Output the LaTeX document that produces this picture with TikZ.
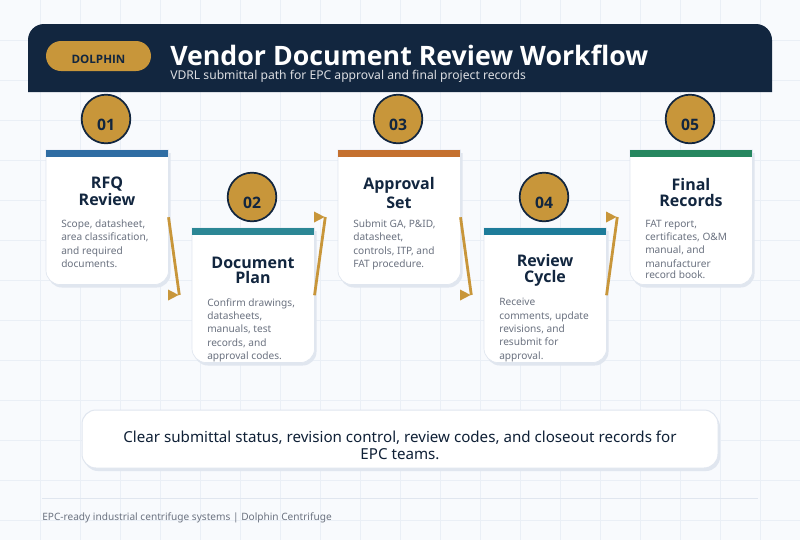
\documentclass[tikz,border=0pt]{standalone}
\usepackage{fontspec}
\setmainfont{Noto Sans}
\newfontfamily\headfont{Open Sans}
\usetikzlibrary{shapes.geometric}
\definecolor{pagebg}{HTML}{F8FAFD}
\definecolor{gridcol}{HTML}{EAEFF6}
\definecolor{navy}{HTML}{12263F}
\definecolor{gold}{HTML}{C8963A}
\definecolor{cardedge}{HTML}{E0E6EF}
\definecolor{bodygrey}{HTML}{6B7280}
\definecolor{barblue}{HTML}{2F6DA3}
\definecolor{barteal}{HTML}{2C8795}
\definecolor{barorange}{HTML}{C4702F}
\definecolor{barcyan}{HTML}{1E7C9A}
\definecolor{bargreen}{HTML}{26865F}
% bottom-rounded outline of a card, taken from its node
\newcommand{\cardoutline}[2]{([shift={#2}]#1.north west) [rounded corners=10.5pt] -- ([shift={#2}]#1.south west) -- ([shift={#2}]#1.south east) [sharp corners] -- ([shift={#2}]#1.north east) -- cycle}
\newcommand{\cardback}[1]{
	\fill[cardedge] \cardoutline{#1}{(2,3)};
	\filldraw[fill=white,draw=cardedge,line width=0.5pt] \cardoutline{#1}{(0,0)};
}
\begin{document}
\begin{tikzpicture}[
	x=0.75pt,
	y=-0.75pt,
	gridline/.style={draw=gridcol,line width=0.75pt},
	cardspace/.style={minimum width=91.5pt,minimum height=100.5pt,inner sep=0pt,anchor=north west},
	topbar/.style={minimum width=91.5pt,minimum height=5.25pt,inner sep=0pt,anchor=north},
	numdisc/.style={circle,fill=gold,draw=navy,line width=1.3pt,minimum size=36.5pt,inner sep=0pt},
	numtext/.style={text=navy,font=\headfont\fontsize{11.8}{14}\selectfont\bfseries},
	cardtitle/.style={text=navy,align=center,inner sep=0pt,anchor=north},
	cardtext/.style={text=bodygrey,align=left,inner sep=0pt,anchor=north west,font=\fontsize{7.6}{10}\selectfont},
	flowline/.style={draw=gold,line width=2.1pt},
	flowhead/.style={isosceles triangle,isosceles triangle stretches,fill=gold,shape border rotate=0,minimum width=8.25pt,minimum height=7.9pt,inner sep=0pt,anchor=apex},
	]
\useasboundingbox (0,0) rectangle (800,540);
\fill[pagebg] (0,0) rectangle (800,540);
\foreach \gx in {40,80,...,760} \draw[gridline] (\gx,0) -- (\gx,540);
\foreach \gy in {40,80,...,520} \draw[gridline] (0,\gy) -- (800,\gy);

% header band
\fill[navy] (28,92) [rounded corners=12pt] -- (28,24) -- (772,24) [sharp corners] -- (772,92) -- cycle;
\node[fill=gold,rounded corners=11.25pt,minimum width=78.75pt,minimum height=22.5pt,inner sep=0pt] (pill) at (98.5,56) {};
\node[text=navy,font=\headfont\fontsize{8.7}{11}\selectfont\bfseries] (brand) at (98.5,59.5) {DOLPHIN};
\node[text=white,anchor=base west,inner sep=0pt,font=\headfont\fontsize{20.05}{24}\selectfont\bfseries] (title) at (170,65) {Vendor Document Review Workflow};
\node[text=white!85!navy,anchor=base west,inner sep=0pt,font=\fontsize{9.1}{11}\selectfont] (subtitle) at (170,79) {VDRL submittal path for EPC approval and final project records};

% cards
\node[cardspace] (carda) at (46,150) {};
\node[cardspace] (cardb) at (192,228) {};
\node[cardspace] (cardc) at (338,150) {};
\node[cardspace] (cardd) at (484,228) {};
\node[cardspace] (carde) at (630,150) {};
\cardback{carda}
\cardback{cardb}
\cardback{cardc}
\cardback{cardd}
\cardback{carde}
\node[topbar,fill=barblue] (bara) at (carda.north) {};
\node[topbar,fill=barteal] (barb) at (cardb.north) {};
\node[topbar,fill=barorange] (barc) at (cardc.north) {};
\node[topbar,fill=barcyan] (bard) at (cardd.north) {};
\node[topbar,fill=bargreen] (bare) at (carde.north) {};

% number discs
\node[numdisc] (numa) at (106,119) {};
\node[numdisc] (numb) at (252,197) {};
\node[numdisc] (numc) at (398,119) {};
\node[numdisc] (numd) at (544,197) {};
\node[numdisc] (nume) at (690,119) {};
\node[numtext] (labela) at (106,125) {01};
\node[numtext] (labelb) at (252,203) {02};
\node[numtext] (labelc) at (398,125) {03};
\node[numtext] (labeld) at (544,203) {04};
\node[numtext] (labele) at (690,125) {05};

% card titles
\node[cardtitle,font=\headfont\fontsize{12}{12.7}\selectfont\bfseries] (titlea) at (107,177) {RFQ\\Review};
\node[cardtitle,font=\headfont\fontsize{12}{11}\selectfont\bfseries] (titleb) at (253,257) {Document\\Plan};
\node[cardtitle,font=\headfont\fontsize{12}{14}\selectfont\bfseries] (titlec) at (399,177) {Approval\\Set};
\node[cardtitle,font=\headfont\fontsize{12}{12}\selectfont\bfseries] (titled) at (545,254) {Review\\Cycle};
\node[cardtitle,font=\headfont\fontsize{12}{12}\selectfont\bfseries] (titlee) at (691,178) {Final\\Records};

% card texts
\node[cardtext] (texta) at (61,219.5) {Scope, datasheet,\\area classification,\\and required\\documents.};
\node[cardtext] (textb) at (207,298) {Confirm drawings,\\datasheets,\\manuals, test\\records, and\\approval codes.};
\node[cardtext] (textc) at (353,219.5) {Submit GA, P\&ID,\\datasheet,\\controls, ITP, and\\FAT procedure.};
\node[cardtext] (textd) at (499,298) {Receive\\comments, update\\revisions, and\\resubmit for\\approval.};
\node[cardtext] (texte) at (645,219.5) {FAT report,\\certificates, O\&M\\manual, and\\manufacturer\\[-1.6pt]record book.};

% connectors
\node[flowhead] (heada) at (179.3,295) {};
\node[flowhead] (headb) at (325.3,217) {};
\node[flowhead] (headc) at (471.3,295) {};
\node[flowhead] (headd) at (617.3,217) {};
\draw[flowline] (carda.east) -- (heada.apex);
\draw[flowline] (cardb.east) -- (headb.apex);
\draw[flowline] (cardc.east) -- (headc.apex);
\draw[flowline] (cardd.east) -- (headd.apex);

% closing note
\fill[cardedge,rounded corners=10.5pt] (84,413) rectangle (720,471);
\node[fill=white,draw=cardedge,line width=0.75pt,rounded corners=10.5pt,minimum width=477pt,minimum height=43.5pt,inner sep=0pt] (note) at (400,439) {};
\node[text=navy!85!black,align=center,inner sep=0pt,font=\fontsize{11.35}{13}\selectfont] (notetext) at (400,445.5) {Clear submittal status, revision control, review codes, and closeout records for\\EPC teams.};

% footer
\coordinate (footl) at (42,498);
\coordinate (footr) at (758,498);
\draw[cardedge,line width=0.75pt] (footl) -- (footr);
\node[text=bodygrey,anchor=base west,inner sep=0pt,font=\fontsize{7.58}{10}\selectfont] (foottext) at (42,520) {EPC-ready industrial centrifuge systems | Dolphin Centrifuge};
\end{tikzpicture}
\end{document}
